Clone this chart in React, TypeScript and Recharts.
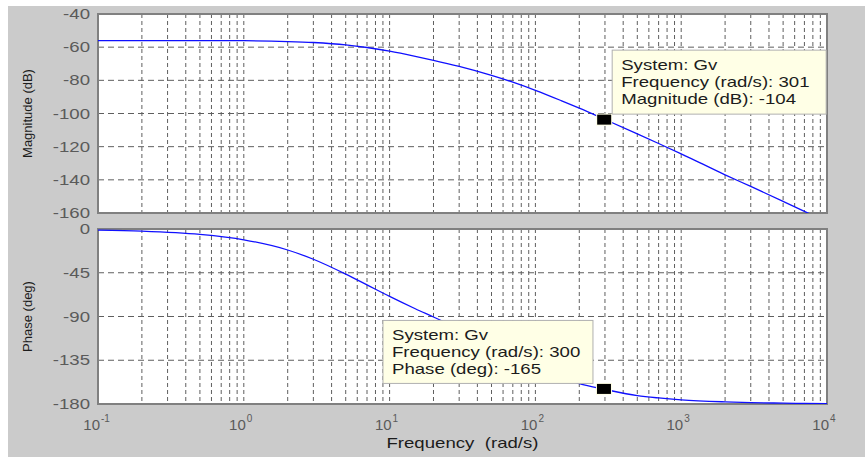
import { LineChart, Line, XAxis, YAxis, CartesianGrid, ReferenceDot, ReferenceArea, Label } from 'recharts';

// Bode plot of Gv
const frequency = [0.1, 0.2, 0.5, 1, 2, 3, 5, 7, 10, 15, 20, 30, 50, 70, 100, 150, 200, 300, 500, 700, 1000, 2000, 3000, 5000, 7000, 10000];
const magnitude = [-56.0, -56.0, -56.0, -56.1, -56.6, -57.2, -58.6, -60.2, -62.4, -65.5, -67.9, -71.6, -77.0, -81.1, -86.0, -92.2, -96.8, -103.6, -112.3, -118.1, -124.3, -137.0, -144.0, -153.0, -159.0, -165.5];
const phase = [-1.1, -2.2, -5.6, -11.1, -21.6, -31.1, -46.4, -57.5, -69.3, -82.0, -90.5, -102.8, -119.2, -130.5, -141.9, -152.9, -159.1, -165.0, -171.4, -173.8, -175.7, -177.8, -178.6, -179.1, -179.4, -179.6];

const magTicks = [-160, -140, -120, -100, -80, -60, -40];
const phaseTicks = [-180, -135, -90, -45, 0];
const decades = [0.1, 1, 10, 100, 1000, 10000];
const minorSteps = [1, 2, 3, 4, 5, 6, 7, 8, 9];

const magTip = { f: 301, v: -104 };
const magTipText = ['System: Gv', 'Frequency (rad/s): 301', 'Magnitude (dB): -104'];
const phaseTip = { f: 300, v: -165 };
const phaseTipText = ['System: Gv', 'Frequency (rad/s): 300', 'Phase (deg): -165'];

const freqTicks = decades.flatMap((d, i) =>
  i === decades.length - 1 ? [d] : minorSteps.map(s => +(d * s).toPrecision(3))
);

const magData = frequency.map((f, i) => ({ f, mag: magnitude[i] }));
const phaseData = frequency.map((f, i) => ({ f, phase: phase[i] }));

const FONT = '"Liberation Sans", Arial, sans-serif';
const BG = '#cbcbcb';
const TICK = '#5a5a5a';
const INK = '#1c1c1c';
const GRID = '#5f5f5f';
const SX = 1.33; // the figure is stretched sideways

function ValueTick({ x, y, payload }: any) {
  return (
    <text transform={`translate(${x},${y}) scale(${SX},1)`} textAnchor="end" dy="0.36em" fill={TICK} fontSize={14} fontFamily={FONT}>
      {payload.value}
    </text>
  );
}

function FreqTick({ x, y, payload }: any) {
  const lg = Math.log10(payload.value);
  const exp = Math.round(lg);
  if (Math.abs(lg - exp) > 1e-6) return <g />;
  return (
    <g transform={`translate(${x},${y})`} fill={TICK} fontFamily={FONT}>
      <text x={2} y={18} textAnchor="end" fontSize={15}>10</text>
      <text x={3} y={10} fontSize={10}>{exp}</text>
    </g>
  );
}

function SideLabel({ viewBox, text }: any) {
  const cy = viewBox.y + viewBox.height / 2;
  return (
    <text transform={`translate(${viewBox.x + 24},${cy}) rotate(-90)`} textAnchor="middle" fill={INK} fontSize={13} fontFamily={FONT}>
      {text}
    </text>
  );
}

function DataTip({ cx, cy, lines, dx, dy, w, h }: any) {
  const bx = cx + dx;
  const by = cy + dy;
  return (
    <g>
      <rect x={bx} y={by} width={w} height={h} fill="#ffffe6" stroke="#b0b0b0" />
      {lines.map((t: string, i: number) => (
        <text key={i} transform={`translate(${bx + 9},${by + 19.5 + i * 17.2}) scale(${SX},1)`} fill={INK} fontSize={14} fontFamily={FONT}>
          {t}
        </text>
      ))}
      <rect x={cx - 9} y={cy - 6.5} width={16} height={12} fill="#ffffe6" />
      <rect x={cx - 8} y={cy - 5.5} width={14} height={10} fill="#000" />
    </g>
  );
}

export default function App() {
  return (
    <div style={{ position: 'relative', width: 865, height: 457, background: '#fff', overflow: 'hidden' }}>
      <style>{'body{margin:0}'}</style>
      <div style={{ position: 'absolute', left: 8, top: 6, right: 0, bottom: 0, background: BG }} />

      <div style={{ position: 'absolute', left: 0, top: 0 }}>
        <LineChart width={865} height={230} data={magData} margin={{ top: 14, right: 38, bottom: 17, left: 8 }}>
          <CartesianGrid vertical={false} stroke={GRID} strokeDasharray="6 4" fill="#fff" />
          <CartesianGrid horizontal={false} stroke={GRID} strokeDasharray="4 3" />
          <XAxis dataKey="f" type="number" scale="log" domain={[0.1, 10000]} ticks={freqTicks} interval={0} hide />
          <YAxis type="number" domain={[-160, -40]} ticks={magTicks} interval={0} allowDataOverflow width={90}
            axisLine={false} tickLine={false} tick={<ValueTick />}>
            <Label content={(p: any) => <SideLabel viewBox={p.viewBox} text="Magnitude (dB)" />} />
          </YAxis>
          <ReferenceArea x1={0.1} x2={10000} y1={-160} y2={-40} fill="none" stroke="#808080" strokeWidth={2} />
          <Line dataKey="mag" stroke="#1010ff" strokeWidth={1.3} dot={false} type="monotone" isAnimationActive={false} />
          <ReferenceDot x={magTip.f} y={magTip.v} r={0}
            shape={(p: any) => <DataTip cx={p.cx} cy={p.cy} lines={magTipText} dx={7} dy={-70} w={214} h={64} />} />
        </LineChart>
      </div>

      <div style={{ position: 'absolute', left: 0, top: 220 }}>
        <LineChart width={865} height={237} data={phaseData} margin={{ top: 9, right: 38, bottom: 3, left: 8 }}>
          <CartesianGrid vertical={false} stroke={GRID} strokeDasharray="6 4" fill="#fff" />
          <CartesianGrid horizontal={false} stroke={GRID} strokeDasharray="4 3" />
          <XAxis dataKey="f" type="number" scale="log" domain={[0.1, 10000]} ticks={freqTicks} interval={0} height={50}
            axisLine={false} tickLine={false} tick={<FreqTick />}>
            <Label content={(p: any) => (
              <text x={p.viewBox.x + p.viewBox.width / 2} y={p.viewBox.y + 44} transform={`translate(${(1 - SX) * (p.viewBox.x + p.viewBox.width / 2)},0) scale(${SX},1)`}
                textAnchor="middle" fill={INK} fontSize={14} fontFamily={FONT} style={{ whiteSpace: 'pre' }}>
                {'Frequency  (rad/s)'}
              </text>
            )} />
          </XAxis>
          <YAxis type="number" domain={[-180, 0]} ticks={phaseTicks} interval={0} allowDataOverflow width={90}
            axisLine={false} tickLine={false} tick={<ValueTick />}>
            <Label content={(p: any) => <SideLabel viewBox={p.viewBox} text="Phase (deg)" />} />
          </YAxis>
          <ReferenceArea x1={0.1} x2={10000} y1={-180} y2={0} fill="none" stroke="#808080" strokeWidth={2} />
          <Line dataKey="phase" stroke="#1010ff" strokeWidth={1.3} dot={false} type="monotone" isAnimationActive={false} />
          <ReferenceDot x={phaseTip.f} y={phaseTip.v} r={0}
            shape={(p: any) => <DataTip cx={p.cx} cy={p.cy} lines={phaseTipText} dx={-222} dy={-69} w={210} h={63} />} />
        </LineChart>
      </div>
    </div>
  );
}
